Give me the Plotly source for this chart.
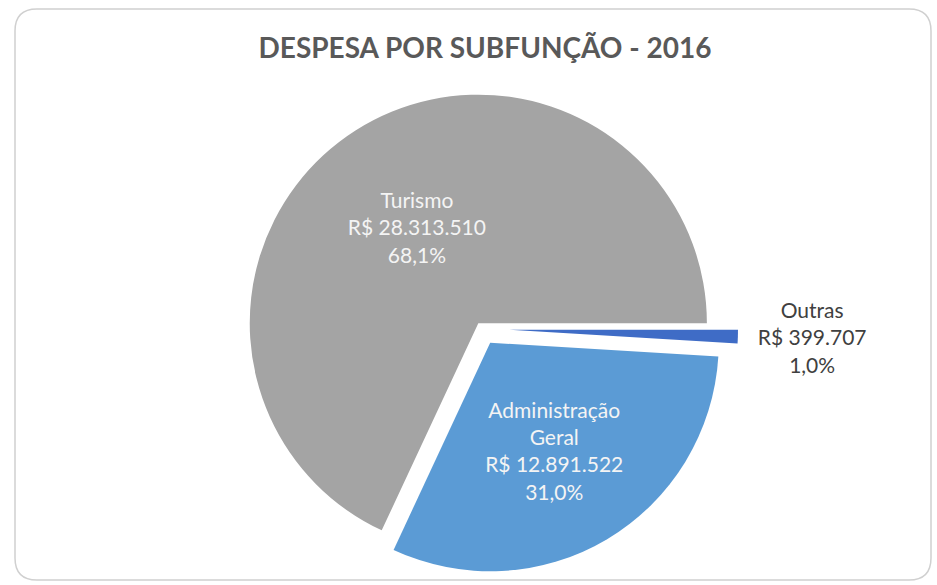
import plotly.graph_objects as go

labels = ["Turismo", "Administração Geral", "Outras"]
display_names = ["Turismo", "Administração<br>Geral", "Outras"]
values = [28313510, 12891522, 399707]
colors = ["#a4a4a4", "#5b9bd5", "#3f6cc6"]
title_text = "DESPESA POR SUBFUNÇÃO - 2016"

W, H = 937, 585

fig = go.Figure()
fig.add_trace(go.Pie(
    labels=labels,
    values=values,
    customdata=display_names,
    texttemplate="%{customdata}<br>R$ %{value:,.0f}<br>%{percent:.1%}",
    textposition=["inside", "inside", "outside"],
    insidetextorientation="horizontal",
    sort=False,
    direction="counterclockwise",
    rotation=205,
    pull=[0.03, 0.07, 0.12],
    marker=dict(colors=colors, line=dict(width=0)),
    insidetextfont=dict(family="Lato", size=21, color="#f4f4f4"),
    outsidetextfont=dict(family="Lato", size=21, color="#404040"),
    showlegend=False,
    hoverinfo="skip",
    domain=dict(x=[(482 - 256) / W, (482 + 256) / W], y=[(256 - 256) / H, (256 + 256) / H]),
))

# rounded border of the chart area
x0, x1 = 15 / W, 931 / W
y0, y1 = 1 - 580 / H, 1 - 9 / H
rx, ry = 22 / W, 22 / H
path = (f"M {x0+rx},{y1} L {x1-rx},{y1} Q {x1},{y1} {x1},{y1-ry} "
        f"L {x1},{y0+ry} Q {x1},{y0} {x1-rx},{y0} L {x0+rx},{y0} "
        f"Q {x0},{y0} {x0},{y0+ry} L {x0},{y1-ry} Q {x0},{y1} {x0+rx},{y1} Z")
fig.add_shape(type="path", path=path, xref="paper", yref="paper",
              line=dict(color="#d0d0d0", width=1.5), fillcolor="rgba(0,0,0,0)")

fig.update_layout(
    width=W, height=H,
    margin=dict(l=0, r=0, t=0, b=0, autoexpand=False),
    paper_bgcolor="white",
    plot_bgcolor="white",
    separators=",.",
    title=dict(text=f"<b>{title_text}</b>", x=485 / W, xanchor="center",
               y=1 - 48 / H, yanchor="middle",
               font=dict(family="Lato", size=28, color="#595959")),
)

fig.write_html("out.html", config={"displayModeBar": False},
               post_script="document.body.style.margin='0px';")
